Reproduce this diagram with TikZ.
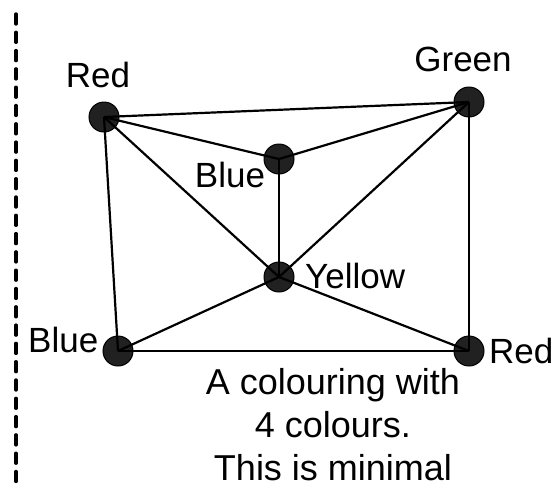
\documentclass[tikz,border=0pt]{standalone}
\usepackage{fontspec}
\setmainfont{Liberation Sans}
\begin{document}
\begin{tikzpicture}[x=1pt,y=-1pt,
  vertex/.style={circle,draw=black,line width=1pt,fill=black!87,minimum size=30pt,inner sep=0pt},
  edge/.style={line width=2.2pt,black},
  vlabel/.style={inner sep=0pt,anchor=base,font=\fontsize{35}{40}\selectfont},
  capline/.style={inner sep=0pt,anchor=base,font=\fontsize{36}{43}\selectfont}]
\useasboundingbox (0,0) rectangle (557,485);
\fill[white] (0,0) rectangle (557,485);
% divider on the left
\coordinate (dtop) at (16,14);
\coordinate (dbot) at (16,492);
\draw[line width=3.4pt,line cap=round,dash pattern=on 10pt off 8.3pt] (dtop) -- (dbot);
% vertices
\node[vertex] (r1) at (104,117) {};
\node[vertex] (g)  at (469,102) {};
\node[vertex] (b1) at (279,159) {};
\node[vertex] (y)  at (279,277) {};
\node[vertex] (b2) at (118,351) {};
\node[vertex] (r2) at (469,351) {};
% edges
\draw[edge] (r1.center) -- (g.center);
\draw[edge] (r1.center) -- (b1.center);
\draw[edge] (r1.center) -- (y.center);
\draw[edge] (r1.center) -- (b2.center);
\draw[edge] (g.center) -- (b1.center);
\draw[edge] (g.center) -- (y.center);
\draw[edge] (g.center) -- (r2.center);
\draw[edge] (b1.center) -- (y.center);
\draw[edge] (y.center) -- (b2.center);
\draw[edge] (y.center) -- (r2.center);
\draw[edge] (b2.center) -- (r2.center);
% colour labels
\node[vlabel] (lr1) at (98,87) {Red};
\node[vlabel] (lg)  at (463,71) {Green};
\node[vlabel] (lb1) at (230,187) {Blue};
\node[vlabel,anchor=base west] (ly) at (305,288) {Yellow};
\node[vlabel,anchor=base west] (lb2) at (28,352) {Blue};
\node[vlabel,anchor=base west] (lr2) at (489,363) {Red};
% caption
\node[capline] (cap1) at (333,394) {A colouring with};
\node[capline] (cap2) at (333,437) {4 colours.};
\node[capline] (cap3) at (333,480) {This is minimal};
\end{tikzpicture}
\end{document}
